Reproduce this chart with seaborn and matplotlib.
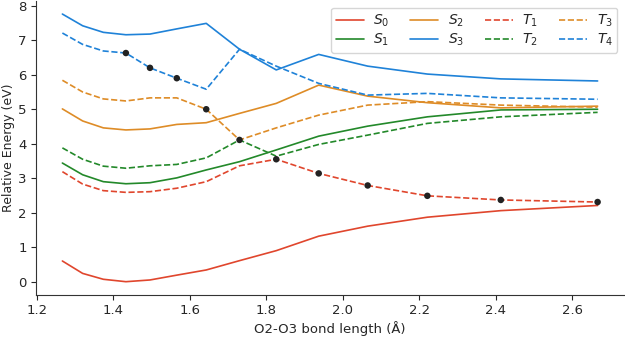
import numpy as np
import pandas as pd
import matplotlib
matplotlib.use("Agg")
import matplotlib.pyplot as plt
import seaborn as sns

# Data
bond_length = [1.267, 1.320, 1.374, 1.433, 1.496, 1.566, 1.643, 1.730,
               1.826, 1.937, 2.065, 2.221, 2.413, 2.666]
S0 = [0.60, 0.24, 0.07, 0.00, 0.05, 0.19, 0.34, 0.61, 0.90, 1.32, 1.61, 1.87, 2.06, 2.21]
S1 = [3.44, 3.10, 2.90, 2.84, 2.87, 3.01, 3.24, 3.48, 3.82, 4.22, 4.51, 4.78, 4.98, 5.00]
S2 = [5.01, 4.66, 4.46, 4.40, 4.43, 4.56, 4.61, 4.88, 5.17, 5.70, 5.38, 5.19, 5.04, 5.09]
S3 = [7.76, 7.42, 7.23, 7.16, 7.18, 7.33, 7.49, 6.74, 6.14, 6.59, 6.25, 6.02, 5.88, 5.82]
T1 = [3.19, 2.83, 2.64, 2.59, 2.61, 2.71, 2.90, 3.36, 3.55, 3.14, 2.79, 2.49, 2.37, 2.31]
T2 = [3.88, 3.55, 3.35, 3.29, 3.36, 3.40, 3.59, 4.11, 3.64, 3.98, 4.25, 4.59, 4.78, 4.91]
T3 = [5.84, 5.50, 5.30, 5.24, 5.33, 5.33, 5.00, 4.11, 4.46, 4.83, 5.12, 5.22, 5.12, 5.06]
T4 = [7.21, 6.88, 6.69, 6.63, 6.20, 5.90, 5.58, 6.74, 6.25, 5.75, 5.41, 5.46, 5.33, 5.29]

# state followed by the marked path at each geometry (None = not marked)
path_states = [None, None, None, "T4", "T4", "T4", "T3", "T2",
               "T1", "T1", "T1", "T1", "T1", "T1"]

series = {"S0": S0, "S1": S1, "S2": S2, "S3": S3,
          "T1": T1, "T2": T2, "T3": T3, "T4": T4}
labels = {"S0": "$S_0$", "S1": "$S_1$", "S2": "$S_2$", "S3": "$S_3$",
          "T1": "$T_1$", "T2": "$T_2$", "T3": "$T_3$", "T4": "$T_4$"}

red, green, orange, blue = "#e0462d", "#23892a", "#de8c27", "#1f82d8"
colors = {"S0": red, "S1": green, "S2": orange, "S3": blue,
          "T1": red, "T2": green, "T3": orange, "T4": blue}

sns.set_style("ticks")
plt.rcParams["font.family"] = ["DejaVu Sans"]

fig = plt.figure(figsize=(6.25, 3.38), dpi=100)
ax = fig.add_axes([0.057, 0.127, 0.942, 0.871])

for name, vals in series.items():
    ls = "-" if name.startswith("S") else "--"
    sns.lineplot(x=bond_length, y=vals, ax=ax, color=colors[name],
                 linestyle=ls, linewidth=1.2, label=labels[name], sort=False)

px = [x for x, s in zip(bond_length, path_states) if s is not None]
py = [series[s][i] for i, s in enumerate(path_states) if s is not None]
sns.scatterplot(x=px, y=py, ax=ax, color="#222222", s=22, edgecolor="none",
                zorder=5, legend=False)

ax.set_xlabel("O2-O3 bond length (Å)", fontsize=9.5, labelpad=3)
ax.set_ylabel("Relative Energy (eV)", fontsize=9, labelpad=2)
ax.tick_params(labelsize=9.5, length=3.5, width=0.8, pad=3)
ax.set_xticks([1.2, 1.4, 1.6, 1.8, 2.0, 2.2, 2.4, 2.6])
ax.set_yticks(range(0, 9))
sns.despine(ax=ax)
for sp in ["left", "bottom"]:
    ax.spines[sp].set_linewidth(0.8)
    ax.spines[sp].set_color("#333333")

ax.legend(ncol=4, loc="upper right", fontsize=10, frameon=True,
          handlelength=2.0, handletextpad=0.7, columnspacing=1.5,
          labelspacing=0.2, borderpad=0.35, borderaxespad=0.5)

fig.savefig("out.png", dpi=100)
